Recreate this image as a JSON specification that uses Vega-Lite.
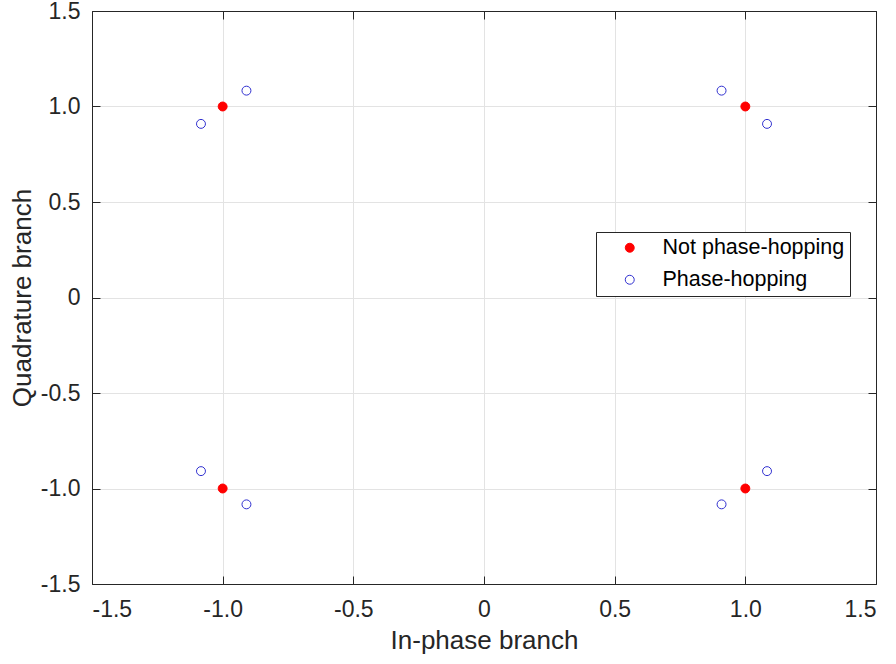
{
  "$schema": "https://vega.github.io/schema/vega-lite/v6.json",
  "width": 784,
  "height": 573,
  "autosize": "none",
  "padding": {"left": 92, "top": 11, "right": 20, "bottom": 80},
  "background": "white",
  "config": {
    "font": "Liberation Sans",
    "view": {"stroke": "#262626", "strokeWidth": 1},
    "axis": {
      "gridColor": "#e3e3e3",
      "gridWidth": 1,
      "domainColor": "#262626",
      "tickColor": "#262626",
      "tickSize": -8,
      "labelFontSize": 23,
      "labelColor": "#262626",
      "titleFontSize": 26,
      "titleFontWeight": "normal",
      "titleColor": "#262626"
    }
  },
  "data": {
    "values": [
      {"x": 1, "y": 1, "s": "Not phase-hopping"},
      {"x": -1, "y": 1, "s": "Not phase-hopping"},
      {"x": -1, "y": -1, "s": "Not phase-hopping"},
      {"x": 1, "y": -1, "s": "Not phase-hopping"},
      {"x": 0.909, "y": 1.083, "s": "Phase-hopping"},
      {"x": 1.083, "y": 0.909, "s": "Phase-hopping"},
      {"x": -0.909, "y": 1.083, "s": "Phase-hopping"},
      {"x": -1.083, "y": 0.909, "s": "Phase-hopping"},
      {"x": -0.909, "y": -1.083, "s": "Phase-hopping"},
      {"x": -1.083, "y": -0.909, "s": "Phase-hopping"},
      {"x": 0.909, "y": -1.083, "s": "Phase-hopping"},
      {"x": 1.083, "y": -0.909, "s": "Phase-hopping"}
    ]
  },
  "resolve": {"axis": {"x": "independent", "y": "independent"}},
  "layer": [
    {
      "mark": {"type": "point", "opacity": 0},
      "encoding": {
        "x": {
          "field": "x", "type": "quantitative",
          "scale": {"domain": [-1.5, 1.5], "nice": false, "zero": false},
          "axis": {"orient": "top", "title": null, "labels": false, "grid": true, "values": [-1.5, -1, -0.5, 0, 0.5, 1, 1.5]}
        },
        "y": {
          "field": "y", "type": "quantitative",
          "scale": {"domain": [-1.5, 1.5], "nice": false, "zero": false},
          "axis": {"orient": "right", "title": null, "labels": false, "grid": true, "values": [-1.5, -1, -0.5, 0, 0.5, 1, 1.5]}
        }
      }
    },
    {
      "mark": {"type": "point", "size": 80, "strokeWidth": 1, "opacity": 1},
      "encoding": {
        "x": {
          "field": "x", "type": "quantitative",
          "scale": {"domain": [-1.5, 1.5], "nice": false, "zero": false},
          "axis": {
            "orient": "bottom",
            "grid": false,
            "title": "In-phase branch",
            "values": [-1.5, -1, -0.5, 0, 0.5, 1, 1.5],
            "labelExpr": "datum.value == 0 ? '0' : (datum.value < 0 ? '-' + format(-datum.value, '.1f') : format(datum.value, '.1f'))",
            "labelPadding": 22,
            "titlePadding": 6
          }
        },
        "y": {
          "field": "y", "type": "quantitative",
          "scale": {"domain": [-1.5, 1.5], "nice": false, "zero": false},
          "axis": {
            "orient": "left",
            "grid": false,
            "title": "Quadrature branch",
            "values": [-1.5, -1, -0.5, 0, 0.5, 1, 1.5],
            "labelExpr": "datum.value == 0 ? '0' : (datum.value < 0 ? '-' + format(-datum.value, '.1f') : format(datum.value, '.1f'))",
            "labelPadding": 20,
            "titlePadding": 5
          }
        },
        "color": {
          "field": "s", "type": "nominal",
          "scale": {"domain": ["Not phase-hopping", "Phase-hopping"], "range": ["#ff0000", "#3030d0"]},
          "legend": {
            "title": null,
            "orient": "none",
            "legendX": 504,
            "legendY": 221,
            "strokeColor": "#262626",
            "fillColor": "white",
            "padding": 5,
            "labelFontSize": 21.5,
            "labelColor": "#000000",
            "labelOffset": 22,
            "symbolSize": 80,
            "symbolOffset": 18,
            "rowPadding": 9,
            "labelLimit": 400,
            "symbolStrokeWidth": 1
          }
        },
        "fill": {
          "field": "s", "type": "nominal",
          "scale": {"domain": ["Not phase-hopping", "Phase-hopping"], "range": ["#ff0000", "transparent"]},
          "legend": null
        }
      }
    }
  ]
}
